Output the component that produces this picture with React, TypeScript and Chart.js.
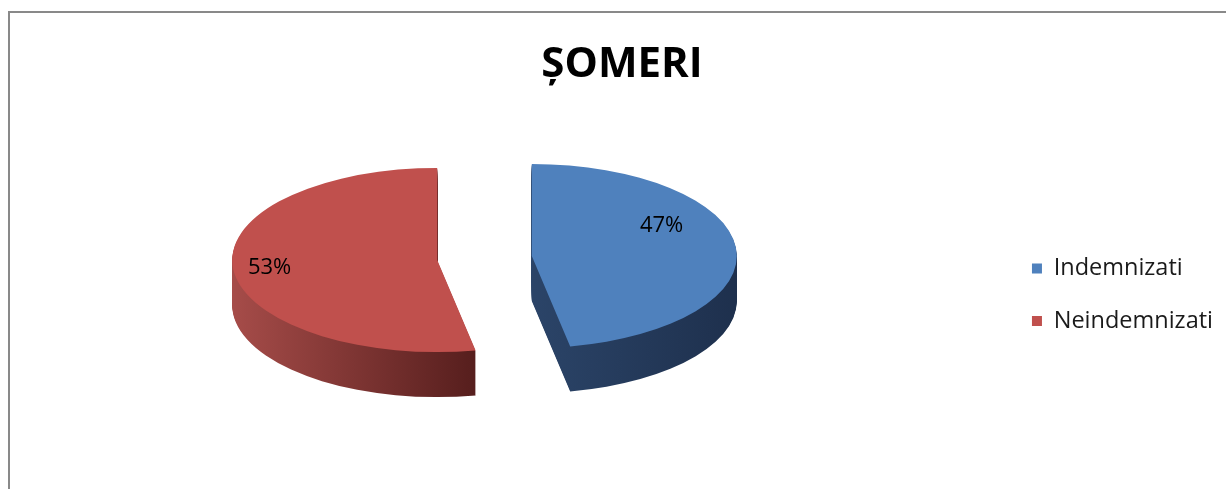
import React, { useEffect, useRef } from "react";
import { Chart, registerables } from "chart.js";

Chart.register(...registerables);

const chartTitle = "ȘOMERI";
const categories = ["Indemnizati", "Neindemnizati"];
const values = [47, 53];
const topColors = ["#4F81BD", "#C0504D"];

const FONT = "'Open Sans', sans-serif";

export default function App() {
  const canvasRef = useRef<HTMLCanvasElement | null>(null);

  useEffect(() => {
    const canvas = canvasRef.current;
    if (!canvas) return;

    const center = { x: 474.5, y: 245 };
    const squash = 0.449;
    const depth = 45;
    const explode = 47.5;
    const sideShades = [
      { from: "#2b4468", to: "#1e304d", x0: 0, x1: 1 },
      { from: "#a64c49", to: "#561e1d", x0: -1, x1: 0.19 },
    ];
    const labelPlacement = [
      { dAngle: -23, r: 0.72 },
      { dAngle: 1, r: 0.82 },
    ];

    const layoutPlugin = {
      id: "pieBox",
      afterLayout(chart: any) {
        const a = chart.chartArea;
        const halfW = 250;
        const halfH = 200;
        a.left = center.x - halfW;
        a.right = center.x + halfW;
        a.top = center.y - halfH;
        a.bottom = center.y + halfH;
        a.width = 2 * halfW;
        a.height = 2 * halfH;
      },
    };

    const explodeOf = (arc: any) => {
      const mid = (arc.startAngle + arc.endAngle) / 2;
      return { ex: Math.cos(mid) * explode, ey: Math.sin(mid) * explode, mid };
    };

    const pie3d = {
      id: "pie3d",
      beforeDatasetsDraw(chart: any) {
        const ctx = chart.ctx as CanvasRenderingContext2D;
        const meta = chart.getDatasetMeta(0);
        const drawAt = (el: any, arc: any, dz: number) => {
          const { ex, ey } = explodeOf(arc);
          ctx.save();
          ctx.translate(arc.x, arc.y + dz);
          ctx.scale(1, squash);
          ctx.translate(-arc.x + ex, -arc.y + ey);
          el.draw(ctx);
          ctx.restore();
        };
        meta.data.forEach((arc: any, i: number) => {
          const R = arc.outerRadius;
          const s = sideShades[i];
          const g = ctx.createLinearGradient(arc.x + s.x0 * R, 0, arc.x + s.x1 * R, 0);
          g.addColorStop(0, s.from);
          g.addColorStop(1, s.to);
          const side = Object.assign(Object.create(Object.getPrototypeOf(arc)), arc, {
            options: { ...arc.options, backgroundColor: g, borderWidth: 0 },
          });
          for (let dz = depth; dz >= 1; dz -= 1) drawAt(side, arc, dz);
        });
        meta.data.forEach((arc: any) => drawAt(arc, arc, 0));
        return false;
      },
      afterDraw(chart: any) {
        const ctx = chart.ctx as CanvasRenderingContext2D;
        const meta = chart.getDatasetMeta(0);
        const data = chart.data.datasets[0].data as number[];
        const total = data.reduce((a, b) => a + b, 0);
        const size = 22;
        ctx.save();
        ctx.font = `${size}px ${FONT}`;
        ctx.fillStyle = "#000";
        ctx.textAlign = "center";
        ctx.textBaseline = "alphabetic";
        meta.data.forEach((arc: any, i: number) => {
          const { ex, ey, mid } = explodeOf(arc);
          const p = labelPlacement[i];
          const ang = mid + (p.dAngle * Math.PI) / 180;
          const r = arc.outerRadius * p.r;
          const x = arc.x + ex + Math.cos(ang) * r;
          const y = arc.y + (ey + Math.sin(ang) * r) * squash;
          const pct = Math.round((data[i] / total) * 100) + "%";
          ctx.fillText(pct, x, y + 0.357 * size);
        });
        ctx.restore();
      },
    };

    const chart = new Chart(canvas, {
      type: "pie",
      data: {
        labels: categories,
        datasets: [
          {
            data: values,
            backgroundColor: topColors,
            borderWidth: 0,
            radius: 205,
          } as any,
        ],
      },
      options: {
        animation: false,
        responsive: false,
        events: [],
        layout: { padding: { left: 11, right: 3, top: 0, bottom: 0 } },
        plugins: {
          title: {
            display: true,
            text: chartTitle,
            color: "#000",
            font: { family: FONT, size: 42, weight: "bold", lineHeight: 1.2 },
            padding: { top: 27, bottom: 10 },
          },
          legend: {
            position: "right",
            fullSize: false,
            labels: {
              boxWidth: 10,
              boxHeight: 10,
              padding: 29,
              color: "#1a1a1a",
              font: { family: FONT, size: 23.5 },
            },
          },
          tooltip: { enabled: false },
        },
      } as any,
      plugins: [layoutPlugin, pie3d],
    });

    return () => chart.destroy();
  }, []);

  return (
    <div
      style={{
        position: "fixed",
        left: 8,
        top: 11,
        width: 1218,
        height: 478,
        boxSizing: "border-box",
        borderTop: "2px solid #898989",
        borderLeft: "2px solid #898989",
        background: "#fff",
      }}
    >
      <canvas ref={canvasRef} width={1216} height={476} style={{ display: "block" }} />
    </div>
  );
}
